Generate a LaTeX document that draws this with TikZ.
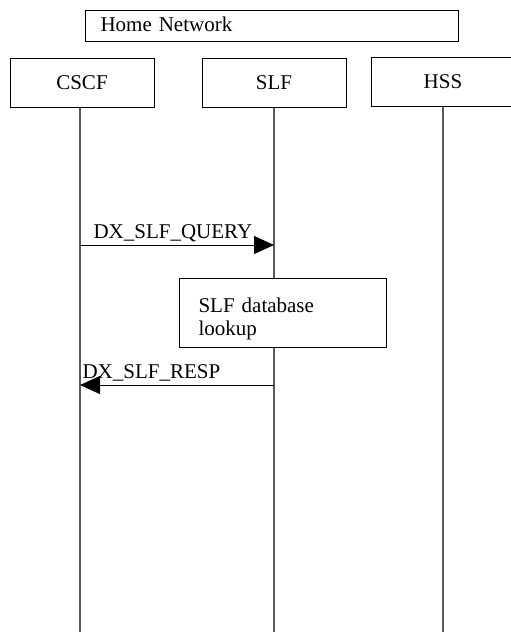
\documentclass[tikz,border=0pt]{standalone}
\usepackage{fontspec}
\setmainfont{Liberation Serif}
\usetikzlibrary{arrows.meta}

\tikzset{
  entity/.style={draw, line width=0.5pt, minimum width=72pt, minimum height=24.5pt,
    inner sep=0pt, font=\fontsize{10.5}{12.6}\selectfont},
  lifeline/.style={draw=black!65, line width=0.6pt},
  msg/.style={line width=0.5pt, -{Triangle[length=10pt,width=9pt]}},
  msglabel/.style={inner sep=1.5pt, font=\fontsize{10.5}{12.6}\selectfont},
}

\begin{document}
\begin{tikzpicture}[x=0.5pt,y=-0.5pt]
  \useasboundingbox (0,0) rectangle (510,632);

  % domain and entities
  \node[entity, anchor=north west, minimum width=186.5pt, minimum height=15.5pt,
    inner xsep=7.5pt, text width=171.5pt, align=left] (home) at (85,10) {Home Network\rule[-2pt]{0pt}{1pt}};
  \node[entity] (cscf) at (82,82.5) {CSCF};
  \node[entity] (slf) at (274,82.5) {SLF};
  \node[entity] (hss) at (443,81.5) {HSS};

  % lifelines
  \coordinate (cscfend) at (80,632);
  \coordinate (slfend) at (274,632);
  \coordinate (hssend) at (443,632);
  \draw[lifeline] (cscf.south -| cscfend) -- (cscfend);
  \draw[lifeline] (slf.south) -- (slfend);
  \draw[lifeline] (hss.south) -- (hssend);

  % query
  \coordinate (qfrom) at (80,245);
  \coordinate (qto) at (274,245);
  \draw[msg] (qfrom) -- node[msglabel, pos=0, anchor=south west, xshift=5pt] {DX\_SLF\_QUERY} (qto);

  % lookup
  \node[draw, fill=white, line width=0.5pt, anchor=north west, minimum width=103.5pt, minimum height=34.5pt,
    inner xsep=9.5pt, inner ysep=0pt, text width=84.5pt, align=left,
    font=\fontsize{10.5}{11.5}\selectfont] (lookup) at (179,278) {\rule{0pt}{13.5pt}SLF database\\lookup};

  % response
  \coordinate (rfrom) at (274,385);
  \coordinate (rto) at (80,385);
  \draw[msg] (rfrom) -- node[msglabel, pos=1, anchor=south west, xshift=-0.5pt] {DX\_SLF\_RESP} (rto);
\end{tikzpicture}
\end{document}
